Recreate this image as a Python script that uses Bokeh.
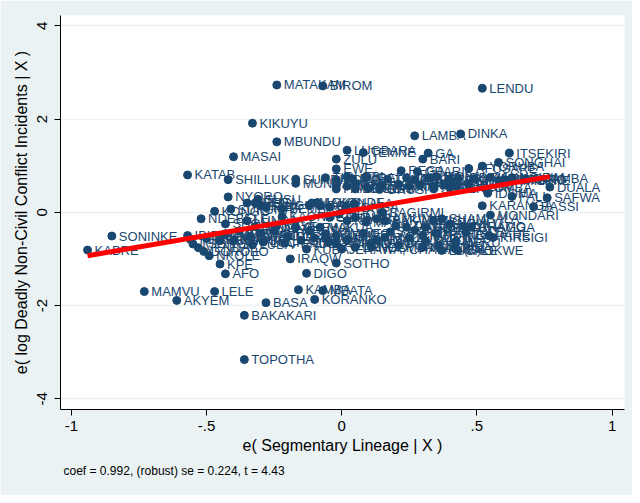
from bokeh.plotting import figure
from bokeh.models import ColumnDataSource, Range1d, FixedTicker, Title
from bokeh.core.properties import value
from bokeh.embed import file_html
from bokeh.resources import INLINE

# ---- data: residualised segmentary lineage (x) and log deadly conflict (y) ----
outer_names = ["MATAKAM", "BIROM", "LENDU", "KIKUYU", "MBUNDU", "MASAI", "KATAB", "SHILLUK",
               "SUNDI", "MUNDANG", "NYORO", "SUSU", "SONINKE", "KABRE", "NDEBELE", "IBIBIO",
               "MAMVU", "AKYEM", "LELE", "BASA", "BAKAKARI", "TOPOTHA", "KPE", "AFO", "NKOLE",
               "DOROBO", "NYAMWEZI", "LUCHAZI", "IRAQW", "DIGO", "KAMBA", "MBATA", "KORANKO",
               "KUBA", "SOTHO", "JERAWA, CHAWAI (S)", "CHOKWE", "NDAMBA", "MADI", "BAGIRMI",
               "ZIGULA", "LAMBA", "DINKA", "ITSEKIRI", "SONGHAI", "LUGBARA", "TEMNE", "GA",
               "BARI", "ZULU", "EWE", "REGA", "YORUBA", "IDOMA", "DUALA", "SAFWA", "FALI",
               "BASSI", "KARANGA", "MONDARI", "KIRSIGI"]
outer_x = [-0.24, -0.07, 0.52, -0.33, -0.24, -0.40, -0.57, -0.42,
           -0.17, -0.17, -0.42, -0.31, -0.85, -0.94, -0.52, -0.57,
           -0.73, -0.61, -0.47, -0.28, -0.36, -0.36, -0.45, -0.43, -0.49,
           -0.51, -0.44, -0.29, -0.19, -0.13, -0.16, -0.07, -0.10,
           -0.13, -0.02, 0.00, 0.43, 0.11, 0.16, 0.15,
           0.34, 0.27, 0.44, 0.62, 0.58, 0.02, 0.08, 0.32,
           0.30, -0.02, -0.02, 0.22, 0.52, 0.54, 0.77, 0.76, 0.63,
           0.71, 0.52, 0.55, 0.56]
outer_y = [2.73, 2.71, 2.66, 1.91, 1.51, 1.19, 0.80, 0.70,
           0.71, 0.62, 0.33, 0.28, -0.51, -0.81, -0.14, -0.50,
           -1.70, -1.89, -1.70, -1.94, -2.21, -3.16, -1.11, -1.32, -0.93,
           -0.84, -0.49, -0.64, -1.00, -1.31, -1.66, -1.68, -1.87,
           -0.79, -1.09, -0.79, -0.82, -0.75, -0.54, 0.00,
           -0.18, 1.64, 1.68, 1.27, 1.07, 1.33, 1.28, 1.27,
           1.14, 1.14, 0.93, 0.89, 0.99, 0.41, 0.54, 0.31, 0.34,
           0.12, 0.14, -0.06, -0.54]

band_names = ["TIV", "NUPE", "IGALA", "TANGALE", "JUKUN", "EKOI", "ANGAS", "MOBA", "BOKI",
              "IGBIRA", "MAMBILA", "IJAW", "KOTOKO", "NGIZIM", "TURKANA", "KISSI", "ANYI",
              "SURA", "BURA", "MARGI", "KILBA", "MUSGU", "MASA", "TUBURI", "DURU", "AFUSARE",
              "GBARI", "BAMILEKE", "TIKAR", "CHAMBA", "FANG", "BOBO", "LOBI", "DOGON",
              "MOSSI", "GRUSI", "SERER", "KONKOMBA"]
band_x = [-0.06, 0.04, 0.09, 0.17, 0.24, 0.27, 0.32, 0.35, 0.40,
          0.43, 0.49, 0.55, 0.60, 0.63, -0.02, 0.02, 0.05,
          0.15, 0.21, 0.25, 0.29, 0.34, 0.38, 0.42, 0.47, 0.47,
          0.28, 0.58, 0.63, 0.68, -0.02, -0.02, 0.02, 0.05,
          0.10, 0.14, 0.34, 0.40]
band_y = [0.74, 0.72, 0.75, 0.71, 0.74, 0.70, 0.73, 0.76, 0.71,
          0.74, 0.72, 0.75, 0.70, 0.74, 0.58, 0.56, 0.60,
          0.57, 0.60, 0.56, 0.59, 0.57, 0.61, 0.56, 0.59, 0.94,
          0.87, 0.68, 0.71, 0.72, 0.50, 0.70, 0.76, 0.50,
          0.51, 0.49, 0.50, 0.53]

left_names = ["KONGO", "SUKUMA", "HEHE", "BENA", "SANGU", "FIPA", "BEMBA", "NGONI", "YAO",
              "MAKONDE", "LOKO", "ILA", "TONGA", "LALA", "LUNDA", "KAONDE", "SHONA",
              "TSONGA", "VENDA", "SWAZI", "XHOSA", "TSWANA", "CHEWA", "MAKUA", "LOMWE",
              "SENA", "NYANJA", "TUMBUKA", "RUNDI", "RWANDA", "HAYA", "TORO", "GANDA",
              "SOGA", "GISU", "KIGA", "HUNDE", "KUMU", "BEMBE", "LUBA", "SONGYE", "PENDE"]
left_x = [-0.47, -0.41, -0.35, -0.32, -0.30, -0.28, -0.22, -0.12, -0.08,
          -0.11, -0.09, -0.045, 0.016, 0.047, -0.35, -0.22, -0.43,
          -0.55, -0.53, -0.43, -0.40, -0.45, -0.17, -0.08, -0.06,
          -0.045, -0.50, -0.56, -0.38, -0.34, -0.25, -0.20, -0.15,
          -0.10, -0.12, -0.24, -0.30, -0.05, -0.02, -0.33, -0.32, -0.21]
left_y = [0.02, 0.07, 0.20, 0.20, 0.15, 0.10, 0.08, 0.15, 0.14,
          0.20, 0.21, 0.11, 0.11, 0.18, -0.18, -0.09, -0.25,
          -0.68, -0.76, -0.46, -0.61, -0.61, -0.32, -0.32, -0.46,
          -0.11, -0.56, -0.58, -0.40, -0.52, -0.40, -0.52, -0.60,
          -0.55, -0.40, -0.28, -0.45, -0.65, -0.50, -0.70, -0.31, -0.66]

right_names = ["MBOSI", "KOTA", "BULU", "MAKA", "BAMUM", "BAKWERI", "AZANDE", "MANGBETU",
               "BANDA", "GBAYA", "NGBANDI", "YAKOMA", "ALUR", "ACHOLI", "LANGO", "TESO",
               "POKOT", "NANDI", "EMBU", "MERU", "TAITA", "CHAGGA", "PARE", "SHAMBALA",
               "NGULU", "ZARAMO", "LUGURU", "SAGARA", "GOGO", "NYAKYUSA", "NYIHA", "BISA",
               "LUVALE", "MBUNDA"]
right_x = [-0.01, 0.02, 0.05, 0.09, 0.13, 0.16, 0.20, 0.24,
           0.27, 0.31, 0.30, 0.31, -0.06, -0.02, 0.05, 0.11,
           0.21, 0.30, 0.36, 0.42, 0.46, 0.48, 0.545, 0.37,
           0.40, 0.45, 0.25, 0.18, 0.08, 0.13, 0.35, 0.42,
           0.37, 0.02]
right_y = [-0.04, -0.18, -0.11, -0.21, -0.14, -0.18, -0.29, -0.32,
           -0.39, -0.32, -0.50, -0.61, -0.54, -0.68, -0.75, -0.66,
           -0.71, -0.75, -0.71, -0.64, -0.43, -0.32, -0.50, -0.14,
           -0.25, -0.30, -0.55, -0.42, -0.45, -0.60, -0.45, -0.78,
           -0.82, -0.60]

coef = 0.992
note_text = "coef = 0.992, (robust) se = 0.224, t = 4.43"
x_ticks = [-1, -0.5, 0, 0.5, 1]
x_tick_labels = ["-1", "-.5", "0", ".5", "1"]
y_ticks = [-4, -2, 0, 2, 4]
y_tick_labels = ["-4", "-2", "0", "2", "4"]

# ---- build ----
names = outer_names + band_names + left_names + right_names
xs = outer_x + band_x + left_x + right_x
ys = outer_y + band_y + left_y + right_y
src = ColumnDataSource(dict(x=xs, y=ys, name=names))

NAVY = "#1A476F"
BG = "#EAF2F3"
FONT = "Liberation Sans"

p = figure(width=632, height=495, output_backend="svg", toolbar_location=None,
           x_range=Range1d(-1.04, 1.046), y_range=Range1d(-4.23, 4.22),
           min_border_left=60, min_border_right=8, min_border_top=15, min_border_bottom=86,
           background_fill_color="white", border_fill_color=BG)
p.outline_line_color = None
p.xgrid.visible = False
p.ygrid.ticker = FixedTicker(ticks=y_ticks)
p.ygrid.grid_line_color = BG
p.ygrid.grid_line_width = 1.5

p.xaxis.ticker = FixedTicker(ticks=x_ticks)
p.xaxis.major_label_overrides = {t: l for t, l in zip(x_ticks, x_tick_labels)}
p.yaxis.ticker = FixedTicker(ticks=y_ticks)
p.yaxis.major_label_overrides = {t: l for t, l in zip(y_ticks, y_tick_labels)}
p.yaxis.major_label_orientation = "vertical"

for ax in (p.xaxis[0], p.yaxis[0]):
    ax.axis_line_color = "black"
    ax.major_tick_line_color = "black"
    ax.major_tick_out = 6
    ax.major_tick_in = 0
    ax.minor_tick_line_color = None
    ax.major_label_text_font = FONT
    ax.major_label_text_font_size = "15px"
    ax.major_label_text_color = "black"
    ax.axis_label_text_font = FONT
    ax.axis_label_text_font_size = "16px"
    ax.axis_label_text_font_style = "normal"
    ax.axis_label_text_color = "black"

p.xaxis.axis_label = "e( Segmentary Lineage | X )"
p.yaxis.axis_label = "e( log Deadly Non-Civil Conflict Incidents | X )"
p.xaxis.major_label_standoff = 5
p.xaxis.axis_label_standoff = 3
p.yaxis.major_label_standoff = 7
p.yaxis.axis_label_standoff = 5

p.scatter("x", "y", source=src, size=8, fill_color=NAVY, line_color=NAVY)
p.text("x", "y", text="name", source=src, x_offset=7, text_baseline="middle",
       text_align="left", text_font=value(FONT), text_font_size="13px", text_color=NAVY)

xmin, xmax = min(xs), max(xs)
p.line([xmin, xmax], [coef * xmin, coef * xmax], line_color="#FF0000", line_width=5)

note = Title(text=note_text, align="left", text_font=FONT, text_font_size="12px",
             text_font_style="normal", text_color="black", offset=3)
p.add_layout(note, "below")

open("out.html", "w").write(file_html(p, INLINE))
